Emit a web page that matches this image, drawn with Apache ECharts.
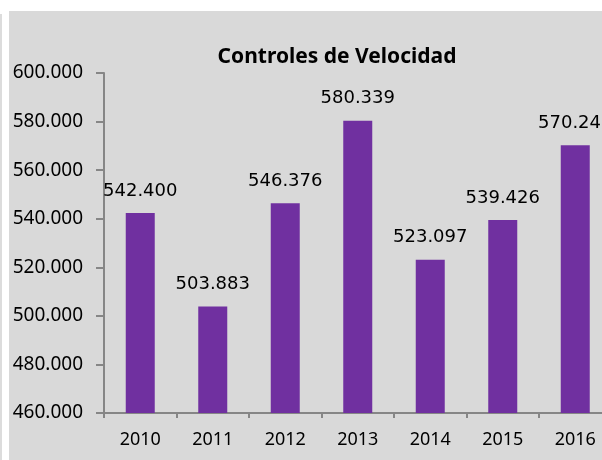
<!DOCTYPE html>
<html>
<head>
<meta charset="utf-8">
<script src="https://cdn.jsdelivr.net/npm/echarts@6/dist/echarts.min.js"></script>
<style>
html,body{margin:0;padding:0;background:#ffffff;}
#chart{width:602px;height:460px;}
</style>
</head>
<body>
<div id="chart"></div>
<script>
var categories = ['2010', '2011', '2012', '2013', '2014', '2015', '2016'];
var values = [542400, 503883, 546376, 580339, 523097, 539426, 570240];
var titleText = 'Controles de Velocidad';
var yMin = 460000, yMax = 600000, yStep = 20000;

function fmt(v) {
  var s = String(Math.round(v));
  return s.replace(/\B(?=(\d{3})+(?!\d))/g, '.');
}

var chart = echarts.init(document.getElementById('chart'), null, {renderer: 'canvas'});
chart.setOption({
  animation: false,
  backgroundColor: '#ffffff',
  graphic: [
    {type: 'rect', z: -10, shape: {x: 9, y: 11, width: 600, height: 460}, style: {fill: '#d9d9d9'}},
    {type: 'rect', z: -10, shape: {x: 0, y: 14, width: 2, height: 460}, style: {fill: '#dcdcdc'}}
  ],
  title: {
    text: titleText,
    left: 332,
    top: 42,
    textAlign: 'center',
    textStyle: {fontFamily: 'Noto Sans', fontWeight: 'bold', fontSize: 21, color: '#000'}
  },
  grid: {left: 104, top: 73, bottom: 47, right: -9.5, outerBoundsMode: 'none', containLabel: false},
  xAxis: {
    type: 'category',
    data: categories,
    axisLine: {lineStyle: {color: '#868686', width: 2}},
    axisTick: {show: true, length: 5, lineStyle: {color: '#868686', width: 2}},
    axisLabel: {margin: 18, fontFamily: 'Noto Sans', fontSize: 18, color: '#000'}
  },
  yAxis: {
    type: 'value',
    min: yMin, max: yMax, interval: yStep,
    splitLine: {show: false},
    axisLine: {show: true, lineStyle: {color: '#868686', width: 2}},
    axisTick: {show: true, length: 8, lineStyle: {color: '#868686', width: 2}},
    axisLabel: {margin: 21, fontFamily: 'Noto Sans', fontSize: 19, color: '#000', formatter: fmt}
  },
  series: [{
    type: 'bar',
    data: values,
    barCategoryGap: '60%',
    itemStyle: {color: '#7030a0'},
    label: {
      show: true, position: 'top', distance: 13,
      fontFamily: 'DejaVu Sans', fontSize: 18, color: '#000',
      formatter: function (p) { return fmt(p.value); }
    }
  }]
});
</script>
</body>
</html>
